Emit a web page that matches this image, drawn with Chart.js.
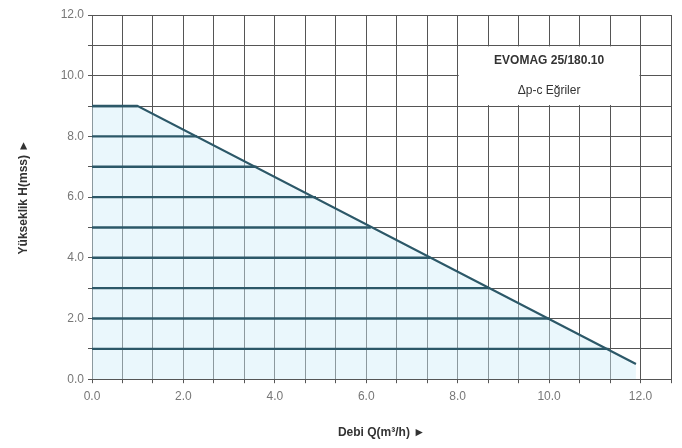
<!DOCTYPE html>
<html>
<head>
<meta charset="utf-8">
<script src="https://cdn.jsdelivr.net/npm/chart.js@4.4.1/dist/chart.umd.min.js"></script>
<style>
  html, body { margin: 0; padding: 0; background: #fff; }
  #wrap { width: 682px; height: 448px; }
</style>
</head>
<body>
<div id="wrap"><canvas id="pump-curve"></canvas></div>
<script>
// head levels of the Δp-c curves (m) and the flow where each one meets the max curve
const headLevels = [1, 2, 3, 4, 5, 6, 7, 8, 9];
const levelEndFlow = [11.3, 10.0, 8.7, 7.4, 6.1, 4.9, 3.6, 2.3, 1.0];

// max curve (flow m3/h, head m)
const maxFlow = [0.0, 1.0, 11.9];
const maxHead = [9.0, 9.0, 0.5];

// axis ticks
const xTicks = [0, 2/3, 4/3, 2, 8/3, 10/3, 4, 14/3, 16/3, 6, 20/3, 22/3, 8, 26/3, 28/3, 10, 32/3, 34/3, 12, 38/3];
const xLabels = ['0.0', '2.0', '4.0', '6.0', '8.0', '10.0', '12.0'];
const yLabels = ['0.0', '2.0', '4.0', '6.0', '8.0', '10.0', '12.0'];

const lineColor = '#2c5868';
const gridColor = '#555';

let datasets = [];

// shaded area under the max curve (drawn first, under the level lines)
datasets.push({
  data: maxFlow.map((x, i) => ({ x: x, y: maxHead[i] })),
  borderColor: lineColor,
  borderWidth: 2.2,
  backgroundColor: 'rgba(208, 238, 249, 0.45)',
  fill: 'origin',
  pointRadius: 0,
  order: 10
});

for (let i = 0; i < headLevels.length; i++) {
  datasets.push({
    data: [{ x: 0, y: headLevels[i] }, { x: levelEndFlow[i], y: headLevels[i] }],
    borderColor: lineColor,
    borderWidth: 2.4,
    fill: false,
    pointRadius: 0,
    order: 1
  });
}

// white label box in the top right corner, placed by the scales
const labelBox = {
  id: 'labelBox',
  afterDraw(chart) {
    const x = chart.scales.x, y = chart.scales.y;
    const ctx = chart.ctx;
    const left = x.getPixelForValue(8), right = x.getPixelForValue(12);
    const top = y.getPixelForValue(11), bottom = y.getPixelForValue(9);
    ctx.save();
    ctx.fillStyle = '#fff';
    ctx.fillRect(left + 1, top + 1, right - left - 2, bottom - top - 2);
    ctx.fillStyle = '#333';
    ctx.textAlign = 'center';
    ctx.textBaseline = 'middle';
    ctx.font = 'bold 12px "Liberation Sans", Arial, sans-serif';
    const cx = (left + right) / 2;
    ctx.fillText('EVOMAG 25/180.10', cx, y.getPixelForValue(10.5));
    ctx.font = '12px "Liberation Sans", Arial, sans-serif';
    ctx.fillText('Δp-c Eğriler', cx, y.getPixelForValue(9.5));
    ctx.restore();
  }
};

const ctx = document.getElementById('pump-curve');
const chart = new Chart(ctx, {
  type: 'line',
  data: { datasets: datasets },
  plugins: [labelBox],
  options: {
    responsive: true,
    maintainAspectRatio: false,
    animation: false,
    layout: { padding: { top: 15, right: 11, left: 12, bottom: 4 } },
    plugins: { legend: { display: false }, tooltip: { enabled: false } },
    scales: {
      x: {
        type: 'linear',
        min: 0,
        max: 38 / 3,
        afterBuildTicks: (scale) => { scale.ticks = xTicks.map(v => ({ value: v })); },
        ticks: {
          autoSkip: false,
          maxRotation: 0,
          color: '#777',
          font: { size: 12, family: '"Liberation Sans", Arial, sans-serif' },
          padding: 6,
          callback: (v, i) => (i % 3 === 0 ? xLabels[i / 3] : '')
        },
        grid: { color: gridColor, lineWidth: 1, tickLength: 4 },
        border: { color: gridColor },
        title: {
          display: true,
          text: 'Debi Q(m³/h) ►',
          color: '#333',
          font: { size: 12, weight: 'bold', family: '"Liberation Sans", Arial, sans-serif' },
          padding: { top: 16 }
        }
      },
      y: {
        type: 'linear',
        min: 0,
        max: 12,
        ticks: {
          stepSize: 1,
          autoSkip: false,
          color: '#777',
          font: { size: 12, family: '"Liberation Sans", Arial, sans-serif' },
          padding: 4,
          callback: (v) => (v % 2 === 0 ? yLabels[v / 2] : '')
        },
        afterFit: (scale) => { scale.width = 80; },
        grid: { color: gridColor, lineWidth: 1, tickLength: 4 },
        border: { color: gridColor },
        title: {
          display: true,
          text: 'Yükseklik H(mss) ►',
          color: '#333',
          font: { size: 12, weight: 'bold', family: '"Liberation Sans", Arial, sans-serif' },
          padding: { bottom: 10 }
        }
      }
    }
  }
});
</script>
</body>
</html>
